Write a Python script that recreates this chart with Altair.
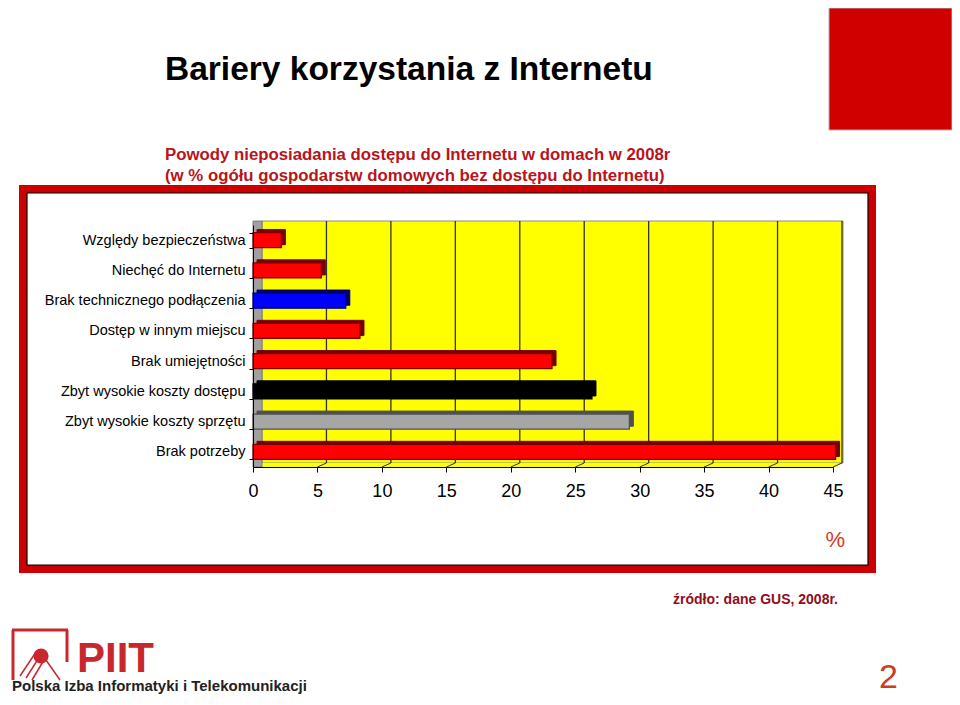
import altair as alt
import pandas as pd

# ---- data ----
categories = [
    "Względy bezpieczeństwa",
    "Niechęć do Internetu",
    "Brak technicznego podłączenia",
    "Dostęp w innym miejscu",
    "Brak umiejętności",
    "Zbyt wysokie koszty dostępu",
    "Zbyt wysokie koszty sprzętu",
    "Brak potrzeby",
]
values = [2.2, 5.3, 7.2, 8.3, 23.2, 26.3, 29.2, 45.2]
x_ticks = [0, 5, 10, 15, 20, 25, 30, 35, 40, 45]
grid_ticks = [5, 10, 15, 20, 25, 30, 35, 40, 45]

# ---- styles ----
fills = ["#FF0000", "#FF0000", "#0000FF", "#FF0000", "#FF0000", "#000000", "#A6A6A6", "#FF0000"]
darks = ["#7A0000", "#7A0000", "#000070", "#7A0000", "#7A0000", "#000000", "#505050", "#7A0000"]

FONT = "Liberation Sans"
OX, OY = 253, 225   # page position of plot origin
W, H = 580, 242

def px(x):
    return x - OX

def py(y):
    return y - OY

dummy = pd.DataFrame({"a": [0]})

def box(x1, y1, x2, y2, **kw):
    return alt.Chart(dummy).mark_rect(**kw).encode(
        x=alt.value(px(x1)), x2=alt.value(px(x2)),
        y=alt.value(py(y1)), y2=alt.value(py(y2)))

def line(x1, y1, x2, y2, **kw):
    return alt.Chart(dummy).mark_rule(**kw).encode(
        x=alt.value(px(x1)), x2=alt.value(px(x2)),
        y=alt.value(py(y1)), y2=alt.value(py(y2)))

def txt(x, y, s, **kw):
    return alt.Chart(dummy).mark_text(text=s, **kw).encode(
        x=alt.value(px(x)), y=alt.value(py(y)))

df = pd.DataFrame({"cat": categories, "val": values, "fill": fills, "dark": darks})
grid_df = pd.DataFrame({"v": grid_ticks})

xscale = alt.Scale(domain=[0, 45], nice=False)
yscale = alt.Scale(domain=categories, paddingInner=0.5, paddingOuter=0.25)

xaxis = alt.Axis(values=x_ticks, grid=False, title=None, domainColor="black",
                 tickColor="black", tickSize=5, labelPadding=10, labelFont=FONT,
                 labelFontSize=18, labelColor="black", zindex=1, labelFlush=False)
yaxis = alt.Axis(title=None, tickBand="extent", grid=False, domainColor="black",
                 tickColor="black", tickSize=4, labelPadding=4, labelFont=FONT,
                 labelFontSize=14.5, labelColor="black", labelLimit=400, zindex=1)

RED = "#B8141C"

# decorations
frame_red = box(19, 185, 876, 573, color="#CC0000")
frame_in = box(27, 193, 868, 565, fill="white", stroke="black", strokeWidth=1.2)
red_square = box(829, 8, 952, 130, fill="#D00000", stroke="#B0B0B0", strokeWidth=1)

title = txt(165, 80, "Bariery korzystania z Internetu", font=FONT, fontSize=33.5,
            fontWeight="bold", align="left", baseline="alphabetic", color="black")
sub1 = txt(165, 160, "Powody nieposiadania dostępu do Internetu w domach w 2008r",
           font=FONT, fontSize=16.8, fontWeight="bold", align="left",
           baseline="alphabetic", color=RED)
sub2 = txt(165, 181, "(w % ogółu gospodarstw domowych bez dostępu do Internetu)",
           font=FONT, fontSize=16.8, fontWeight="bold", align="left",
           baseline="alphabetic", color=RED)
source = txt(838, 604, "źródło: dane GUS, 2008r.", font=FONT, fontSize=14,
             fontWeight="bold", align="right", baseline="alphabetic", color="#8E0E1A")
percent = txt(845, 547, "%", font=FONT, fontSize=22, align="right",
              baseline="alphabetic", color="#D9381E")
page_no = txt(898, 688, "2", font=FONT, fontSize=34,
              align="right", baseline="alphabetic", color="#C8401F")

# logo
LOGO = "#C8282D"
logo_parts = [
    line(12, 630, 68, 630, color=LOGO, strokeWidth=3),
    line(13, 630, 13, 680, color=LOGO, strokeWidth=3),
    line(67, 630, 67, 662, color=LOGO, strokeWidth=3),
    line(20, 676, 36, 652, color=LOGO, strokeWidth=1.5),
    line(26, 678, 40, 656, color=LOGO, strokeWidth=1.5),
    line(32, 680, 44, 660, color=LOGO, strokeWidth=1.5),
    line(46, 660, 60, 680, color=LOGO, strokeWidth=1.5),
    alt.Chart(dummy).mark_point(filled=True, size=230, color=LOGO, opacity=1).encode(
        x=alt.value(px(41)), y=alt.value(py(656))),
    txt(77, 672, "PIIT", font=FONT, fontSize=42, fontWeight="bold",
        align="left", baseline="alphabetic", color=LOGO),
    txt(12, 691, "Polska Izba Informatyki i Telekomunikacji", font=FONT,
        fontSize=15, fontWeight="bold", align="left", baseline="alphabetic",
        color="#222222"),
]

# 3D plot background
back_wall = box(262, 221, 843, 463, fill="#FFFF00", stroke="#8C8C8C", strokeWidth=1)
floor = box(255, 463, 838, 467, fill="#FFFF00")
side_wall = box(253, 221, 262, 467, fill="#A0A0A0", stroke="#707070", strokeWidth=0.8)

grid = alt.Chart(grid_df).mark_rule(color="#333333", strokeWidth=1.3, xOffset=9).encode(
    x=alt.X("v:Q", scale=xscale, axis=xaxis),
    y=alt.value(py(221)), y2=alt.value(py(463)))
floor_lines = alt.Chart(grid_df).mark_rule(color="#333333", strokeWidth=1, x2Offset=9).encode(
    x=alt.X("v:Q", scale=xscale, axis=xaxis), x2="v:Q",
    y=alt.value(H), y2=alt.value(H - 4))

bars_back = alt.Chart(df).mark_bar(xOffset=4, yOffset=-3, strokeWidth=1).encode(
    x=alt.X("val:Q", scale=xscale, axis=xaxis),
    y=alt.Y("cat:N", scale=yscale, sort=categories, axis=yaxis),
    color=alt.Color("dark:N", scale=None),
    stroke=alt.Stroke("dark:N", scale=None))
bars = alt.Chart(df).mark_bar(strokeWidth=1.2).encode(
    x=alt.X("val:Q", scale=xscale, axis=xaxis),
    y=alt.Y("cat:N", scale=yscale, sort=categories, axis=yaxis),
    color=alt.Color("fill:N", scale=None),
    stroke=alt.Stroke("dark:N", scale=None))

chart = alt.layer(
    frame_red, frame_in, red_square, title, sub1, sub2, source, percent, page_no,
    *logo_parts, back_wall, floor, side_wall, grid, floor_lines, bars_back, bars,
).properties(
    width=W, height=H,
    autosize=alt.AutoSizeParams(type="none"),
    padding={"left": OX - 8, "top": OY - 8, "right": 944 - (OX - 8) - W,
             "bottom": 689 - (OY - 8) - H},
    background="white",
).configure_view(stroke=None)

chart.save("out.html", embed_options={"renderer": "svg", "actions": False})
